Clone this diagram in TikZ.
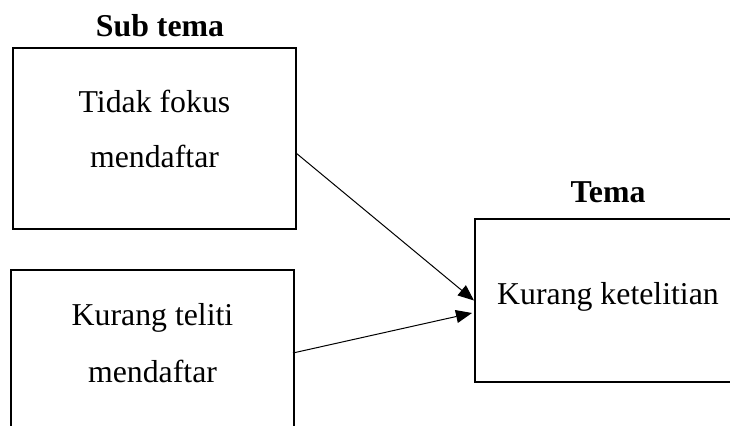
\documentclass[tikz,border=0pt]{standalone}
\usepackage{fontspec}
\setmainfont{Liberation Serif}
\usetikzlibrary{arrows.meta}
\begin{document}
\begin{tikzpicture}[x=0.5pt,y=-0.5pt,
  box/.style={draw,line width=1pt,inner sep=0pt,outer sep=0pt},
  txt/.style={font=\fontsize{15.9}{18}\selectfont,anchor=base,inner sep=0pt},
  head/.style={font=\bfseries\fontsize{15.9}{18}\selectfont,anchor=base,inner sep=0pt},
  link/.style={-{Triangle[length=8pt,width=6.5pt]},line width=0.5pt}]
\useasboundingbox (0,0) rectangle (730,426);
\clip (0,0) rectangle (730,426);

% boxes
\node[box,minimum width=141.5pt,minimum height=90.5pt] (sub1) at (154.5,138.5) {};
\node[box,minimum width=141.5pt,minimum height=90.5pt] (sub2) at (152.5,360.5) {};
\node[box,minimum width=133pt,minimum height=81.5pt] (tema) at (608,300.5) {};

% headings
\node[head] (subhead) at (160,37) {Sub tema};
\node[head] (temahead) at (608,203) {Tema};

% box texts
\node[txt] (s1a) at (154.5,113) {Tidak fokus};
\node[txt] (s1b) at (154.5,168) {mendaftar};
\node[txt] (s2a) at (152.5,326) {Kurang teliti};
\node[txt] (s2b) at (152.5,383) {mendaftar};
\node[txt] (tt) at (608,305) {Kurang ketelitian};

% connectors
\draw[link] ([shift={(0,14.5)}]sub1.east) -- ([shift={(-1,0)}]tema.west);
\draw[link] ([shift={(-1,-7.5)}]sub2.east) -- ([shift={(-3,12.5)}]tema.west);
\end{tikzpicture}
\end{document}
